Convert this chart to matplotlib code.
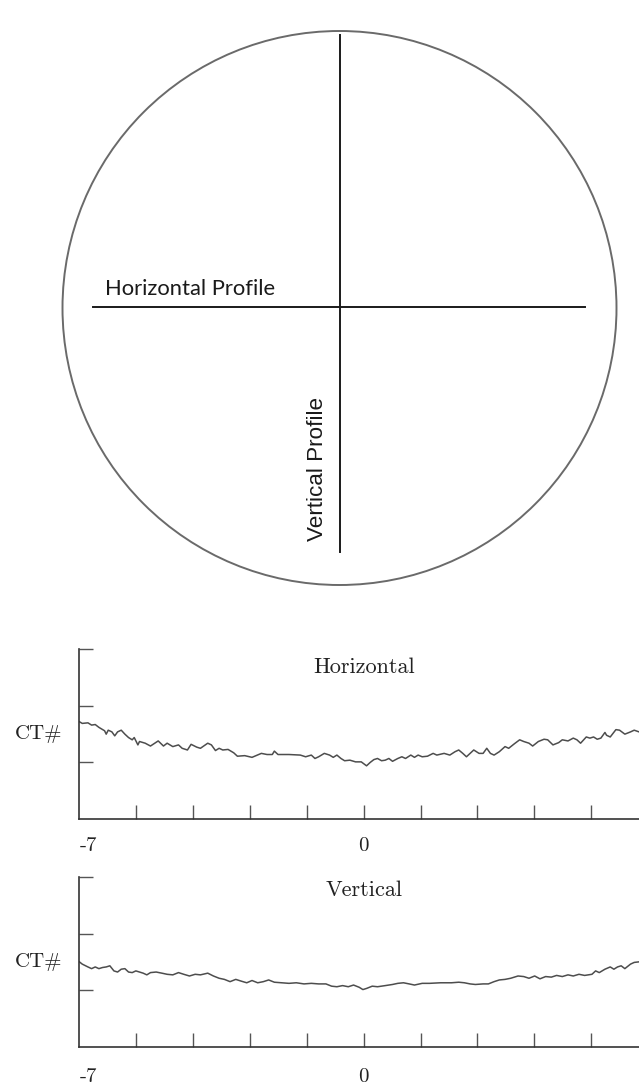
import numpy as np
import matplotlib.pyplot as plt
from matplotlib.patches import Circle

# --- profile data ---
horiz_x = [-7.00, -6.93, -6.79, -6.70, -6.61, -6.52, -6.38, -6.34, -6.29, -6.20, -6.13, -6.06,
           -5.97, -5.88, -5.79, -5.70, -5.65, -5.56, -5.52, -5.38, -5.25, -5.06, -4.93, -4.84,
           -4.70, -4.56, -4.47, -4.34, -4.25, -4.11, -4.02, -3.84, -3.75, -3.65, -3.56, -3.47,
           -3.34, -3.20, -3.11, -2.93, -2.75, -2.52, -2.38, -2.25, -2.20, -2.11, -1.84, -1.56,
           -1.43, -1.29, -1.20, -1.11, -0.97, -0.84, -0.75, -0.66, -0.56, -0.47, -0.34, -0.20,
           -0.06, 0.07, 0.16, 0.25, 0.34, 0.44, 0.53, 0.62, 0.71, 0.84, 0.94, 1.03,
           1.16, 1.25, 1.34, 1.44, 1.57, 1.71, 1.80, 1.98, 2.12, 2.25, 2.34, 2.44,
           2.53, 2.62, 2.71, 2.84, 2.94, 3.03, 3.12, 3.21, 3.34, 3.48, 3.57, 3.71,
           3.84, 3.94, 4.07, 4.16, 4.30, 4.44, 4.53, 4.66, 4.80, 4.89, 5.03, 5.16,
           5.25, 5.34, 5.48, 5.57, 5.66, 5.75, 5.84, 5.94, 5.98, 6.07, 6.21, 6.30,
           6.43, 6.57, 6.66, 6.78, 7.00]
horiz_y = [1.72, 1.69, 1.70, 1.66, 1.67, 1.62, 1.56, 1.50, 1.57, 1.54, 1.47, 1.54,
           1.57, 1.50, 1.44, 1.40, 1.44, 1.31, 1.37, 1.34, 1.29, 1.38, 1.29, 1.34,
           1.28, 1.31, 1.25, 1.22, 1.32, 1.27, 1.25, 1.34, 1.31, 1.21, 1.25, 1.22,
           1.23, 1.17, 1.11, 1.12, 1.09, 1.16, 1.14, 1.14, 1.20, 1.14, 1.14, 1.13,
           1.10, 1.13, 1.07, 1.10, 1.16, 1.13, 1.09, 1.13, 1.07, 1.03, 1.04, 1.01,
           1.01, 0.94, 1.00, 1.05, 1.07, 1.03, 1.04, 1.07, 1.02, 1.07, 1.10, 1.07,
           1.13, 1.09, 1.13, 1.10, 1.11, 1.16, 1.13, 1.16, 1.13, 1.19, 1.22, 1.16,
           1.10, 1.16, 1.22, 1.16, 1.16, 1.25, 1.16, 1.13, 1.19, 1.28, 1.25, 1.33,
           1.40, 1.37, 1.34, 1.29, 1.37, 1.41, 1.40, 1.31, 1.35, 1.40, 1.38, 1.43,
           1.40, 1.34, 1.45, 1.43, 1.45, 1.41, 1.43, 1.53, 1.48, 1.45, 1.58, 1.57,
           1.50, 1.54, 1.57, 1.54, 1.56]

vert_x = [-7.00, -6.93, -6.79, -6.70, -6.61, -6.52, -6.43, -6.34, -6.25, -6.15, -6.06, -5.97,
          -5.88, -5.79, -5.70, -5.61, -5.52, -5.43, -5.34, -5.25, -5.11, -4.97, -4.84, -4.70,
          -4.56, -4.43, -4.29, -4.15, -4.02, -3.84, -3.70, -3.56, -3.43, -3.29, -3.15, -3.02,
          -2.88, -2.75, -2.61, -2.47, -2.34, -2.20, -2.02, -1.84, -1.66, -1.47, -1.29, -1.11,
          -0.93, -0.79, -0.66, -0.52, -0.38, -0.25, -0.11, -0.02, 0.07, 0.21, 0.34, 0.53,
          0.71, 0.84, 0.98, 1.12, 1.25, 1.44, 1.62, 1.89, 2.16, 2.34, 2.48, 2.62,
          2.75, 2.94, 3.07, 3.21, 3.34, 3.48, 3.62, 3.80, 3.94, 4.07, 4.21, 4.34,
          4.48, 4.62, 4.75, 4.89, 5.03, 5.16, 5.30, 5.44, 5.62, 5.71, 5.80, 5.94,
          6.07, 6.16, 6.25, 6.34, 6.43, 6.57, 6.66, 6.78, 7.00]
vert_y = [1.50, 1.46, 1.41, 1.38, 1.41, 1.38, 1.40, 1.41, 1.43, 1.34, 1.32, 1.37,
          1.38, 1.32, 1.31, 1.34, 1.32, 1.30, 1.27, 1.31, 1.32, 1.30, 1.28, 1.27,
          1.31, 1.28, 1.25, 1.28, 1.27, 1.30, 1.25, 1.21, 1.19, 1.15, 1.19, 1.16,
          1.13, 1.17, 1.13, 1.15, 1.18, 1.14, 1.13, 1.12, 1.13, 1.11, 1.12, 1.11,
          1.11, 1.07, 1.06, 1.08, 1.06, 1.09, 1.05, 1.01, 1.03, 1.07, 1.06, 1.08,
          1.10, 1.12, 1.13, 1.11, 1.09, 1.12, 1.12, 1.13, 1.13, 1.14, 1.13, 1.11,
          1.10, 1.11, 1.11, 1.15, 1.18, 1.19, 1.21, 1.25, 1.24, 1.21, 1.25, 1.20,
          1.24, 1.23, 1.26, 1.24, 1.27, 1.25, 1.28, 1.26, 1.28, 1.34, 1.31, 1.37,
          1.41, 1.37, 1.41, 1.43, 1.38, 1.46, 1.49, 1.50, 1.52]

x_ticks = np.arange(-7, 7.01, 1.4)
y_ticks = [1, 2, 3]

W, H = 639, 1085
fig = plt.figure(figsize=(W / 100, H / 100), dpi=100)

# ---------- schematic (pixel coordinates) ----------
ax0 = fig.add_axes([0, 0, 1, 1])
ax0.set_xlim(0, W)
ax0.set_ylim(H, 0)
ax0.axis('off')
ax0.add_patch(Circle((339.5, 308), 277, fill=False, ec='#6a6a6a', lw=1.4))
ax0.plot([93, 585], [307, 307], color='#1a1a1a', lw=1.4)
ax0.plot([339.5, 339.5], [35, 552], color='#1a1a1a', lw=1.4)
ax0.text(105, 295, 'Horizontal Profile', fontsize=15.8, family='Lato', color='#1a1a1a',
         ha='left', va='baseline')
ax0.text(328, 469, 'Vertical Profile', fontsize=16.2, family='Liberation Sans', color='#1a1a1a',
         rotation=90, ha='right', va='center')


# ---------- profile plots ----------
def profile_axes(bottom_px, xs, ys, title, title_y, lab_y):
    left = 79.4 / W
    width = (648 - 79.4) / W
    height = 169.7 / H
    ax = fig.add_axes([left, bottom_px / H, width, height])
    ax.plot(xs, ys, color='#4d4d4d', lw=1.1)
    ax.set_xlim(-7, 7)
    ax.set_ylim(0, 3)
    for s in ['top', 'right']:
        ax.spines[s].set_visible(False)
    for s in ['left', 'bottom']:
        ax.spines[s].set_color('#333333')
        ax.spines[s].set_linewidth(1.2)
    ax.set_xticks(x_ticks[1:])
    ax.set_yticks(y_ticks)
    ax.tick_params(direction='in', length=10, width=1.0, color='#555555',
                   labelbottom=False, labelleft=False)
    ax.patch.set_alpha(0)
    font = dict(family='cmr10', fontsize=15, color='#222222')
    ax.text(0, title_y, title, ha='center', va='center', family='cmr10',
            fontsize=16, color='#222222')
    ax.text(-8.0, 1.5, 'CT#', ha='center', va='center', clip_on=False, **font)
    ax.text(-7, lab_y, '-7', ha='left', va='center', clip_on=False, **font)
    ax.text(0, lab_y, '0', ha='center', va='center', clip_on=False, **font)
    return ax


profile_axes(H - 819, horiz_x, horiz_y, 'Horizontal', 2.69, -0.48)
profile_axes(H - 1046.7, vert_x, vert_y, 'Vertical', 2.77, -0.53)

fig.savefig('out.png', dpi=100)
